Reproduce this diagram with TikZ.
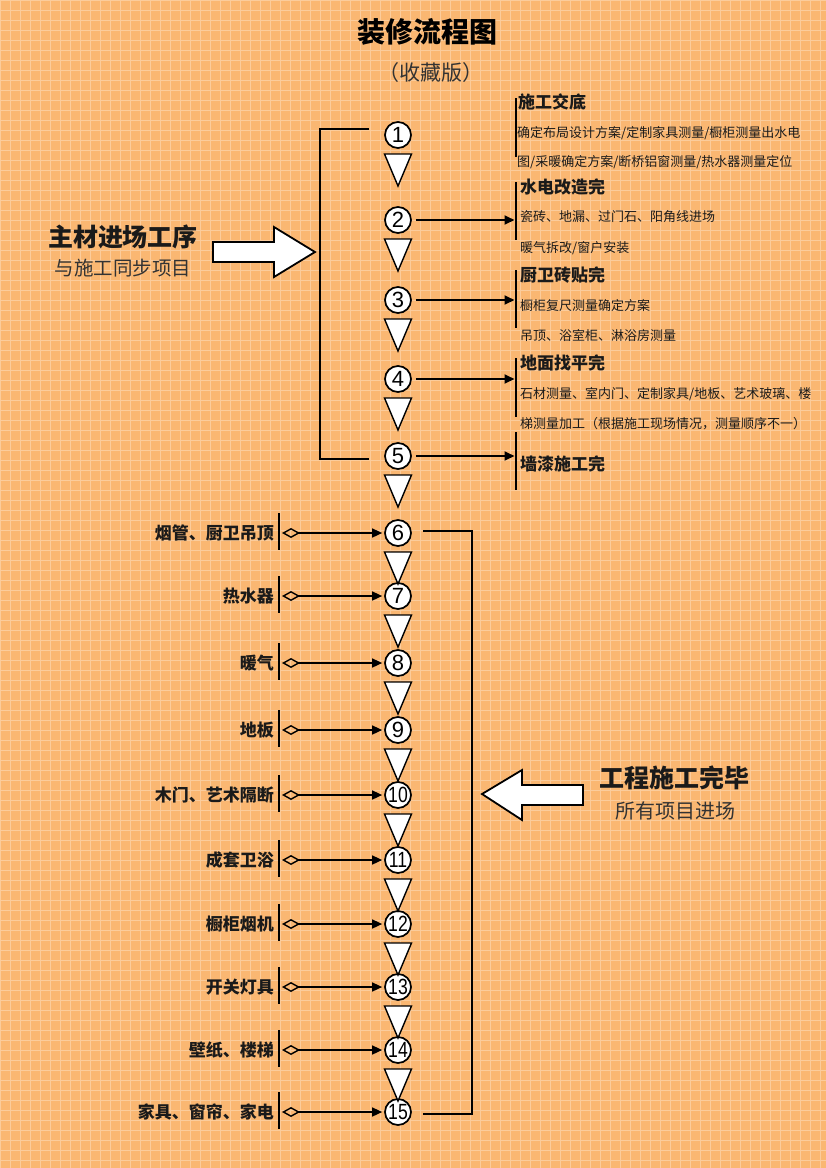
\documentclass[tikz,border=0pt]{standalone}
\usepackage{fontspec}
\setmainfont{Noto Sans CJK SC}
\newfontfamily\numfont{Liberation Sans}
\usetikzlibrary{arrows.meta}
\definecolor{zxBg}{RGB}{250,183,114}
\definecolor{zxInk}{HTML}{1A1A1A}
\definecolor{zxGray}{HTML}{333333}
\tikzset{
  % numbered stage disc
  zx/num/.style={
    circle, draw=black, fill=white, line width=1.7pt, minimum size=26pt,
    inner sep=0pt, font=\numfont\fontsize{22}{22}\selectfont
  },
  % downward step marker
  zx/tri/.style={draw=black, fill=white, line width=1.4pt, line join=miter},
  zx/line/.style={draw=black, line width=1.8pt},
  zx/bar/.style={draw=black, line width=2pt},
  zx/arrow/.style={zx/line, -{Triangle[length=10pt,width=9pt]}},
  zx/darrow/.style={
    draw=black, line width=1.5pt,
    {Diamond[open,length=18pt,width=10pt,line width=1.4pt]}-{Triangle[length=10pt,width=9pt]}
  },
  zx/big/.style={draw=black, fill=white, line width=1.8pt, line join=miter},
  zx/head/.style={anchor=west, inner sep=0pt, font=\bfseries\fontsize{17}{17}\selectfont, text=zxInk},
  zx/note/.style={anchor=west, inner sep=0pt, font=\fontsize{13}{13}\selectfont, text=zxInk},
  zx/item/.style={anchor=east, inner sep=0pt, font=\bfseries\fontsize{17}{17}\selectfont, text=zxInk},
}

\begin{document}
\begin{tikzpicture}[x=1pt, y=-1pt]
\useasboundingbox (0,0) rectangle (826,1168);
\fill[zxBg] (0,0) rectangle (826,1168);
\draw[white, opacity=0.3, line width=0.6pt, step=10pt] (0,0) grid (826,1168);

% title
\node[font=\bfseries\fontsize{28}{28}\selectfont, text=black] (title) at (427,32) {装修流程图};
\node[font=\fontsize{21}{21}\selectfont, text=zxGray] (sub) at (431,73) {（收藏版）};

% stages
\foreach \n/\y in {1/135,2/220,3/300,4/379,5/456,6/533,7/596,8/663,9/730,10/795,
                   11/860,12/924,13/987,14/1050,15/1112}{
  \node[zx/num] (c\n) at (398,\y) {\ifnum\n>9 \scalebox{0.8}[1]{\n}\else\n\fi};}
\foreach \y in {135,220,300,379,456,533,596,663,730,795,860,924,987,1050}{
  \draw[zx/tri] (384.5,\y+19) -- (411.5,\y+19) -- (398,\y+51) -- cycle;}

% upper part: main materials
\coordinate (lb) at (320,300);
\draw[zx/line] ([xshift=-15pt,yshift=6pt]c1.west) -| (lb) |- ([xshift=-15pt,yshift=-3pt]c5.west);
\draw[zx/big] (213,242) -- (274,242) -- (274,227) -- (315,252) -- (274,277)
  -- (274,262) -- (213,262) -- cycle;
\node[font=\bfseries\fontsize{25}{25}\selectfont, text=zxInk] (mainA) at (123,237) {主材进场工序};
\node[font=\fontsize{19.5}{19.5}\selectfont, text=zxGray] (mainB) at (123,268) {与施工同步项目};

\coordinate (rbar) at (516,0);
\foreach \n in {2,...,5}{
  \draw[zx/arrow, shorten >=1.5pt] ([xshift=4pt]c\n.east) -- (c\n.east -| rbar);}
\foreach \a/\b in {98/157,182/240,270/328,358/417,432/490}{
  \draw[zx/bar] (516,\a) -- (516,\b);}

\node[zx/head] (h1) at (518,102) {施工交底};
\node[zx/note] (n1a) at (517,133) {确定布局设计方案/定制家具测量/橱柜测量出水电};
\node[zx/note] (n1b) at (517,162) {图/采暖确定方案/断桥铝窗测量/热水器测量定位};
\node[zx/head] (h2) at (520,187) {水电改造完};
\node[zx/note] (n2a) at (520,217) {瓷砖、地漏、过门石、阳角线进场};
\node[zx/note] (n2b) at (520,248) {暖气拆改/窗户安装};
\node[zx/head] (h3) at (520,275) {厨卫砖贴完};
\node[zx/note] (n3a) at (520,306) {橱柜复尺测量确定方案};
\node[zx/note] (n3b) at (520,336) {吊顶、浴室柜、淋浴房测量};
\node[zx/head] (h4) at (520,363) {地面找平完};
\node[zx/note] (n4a) at (520,394) {石材测量、室内门、定制家具/地板、艺术玻璃、楼};
\node[zx/note] (n4b) at (520,424) {梯测量加工（根据施工现场情况，测量顺序不一）};
\node[zx/head] (h5) at (520,464) {墙漆施工完};

% lower part: items after construction
\coordinate (lbar) at (279,0);
\foreach \n/\t in {6/烟管、厨卫吊顶,7/热水器,8/暖气,9/地板,10/木门、艺术隔断,
                   11/成套卫浴,12/橱柜烟机,13/开关灯具,14/壁纸、楼梯,15/家具、窗帘、家电}{
  \path (c\n -| lbar) coordinate (p\n);
  \node[zx/item, xshift=-5pt] (t\n) at (p\n) {\t};
  \draw[zx/bar] ([yshift=20pt]p\n) -- ([yshift=-17pt]p\n);
  \draw[zx/darrow, shorten <=3pt, shorten >=2pt] (p\n) -- (c\n.west);}

\coordinate (rb) at (472,820);
\draw[zx/line] ([xshift=11pt,yshift=2pt]c6.east) -| (rb) |- ([xshift=11pt,yshift=-2pt]c15.east);
\draw[zx/big] (482,794) -- (522,770) -- (522,785) -- (583,785) -- (583,805)
  -- (522,805) -- (522,820) -- cycle;
\node[font=\bfseries\fontsize{25}{25}\selectfont, text=zxInk] (endA) at (674,778) {工程施工完毕};
\node[font=\fontsize{20}{20}\selectfont, text=zxGray] (endB) at (675,811) {所有项目进场};
\end{tikzpicture}
\end{document}
